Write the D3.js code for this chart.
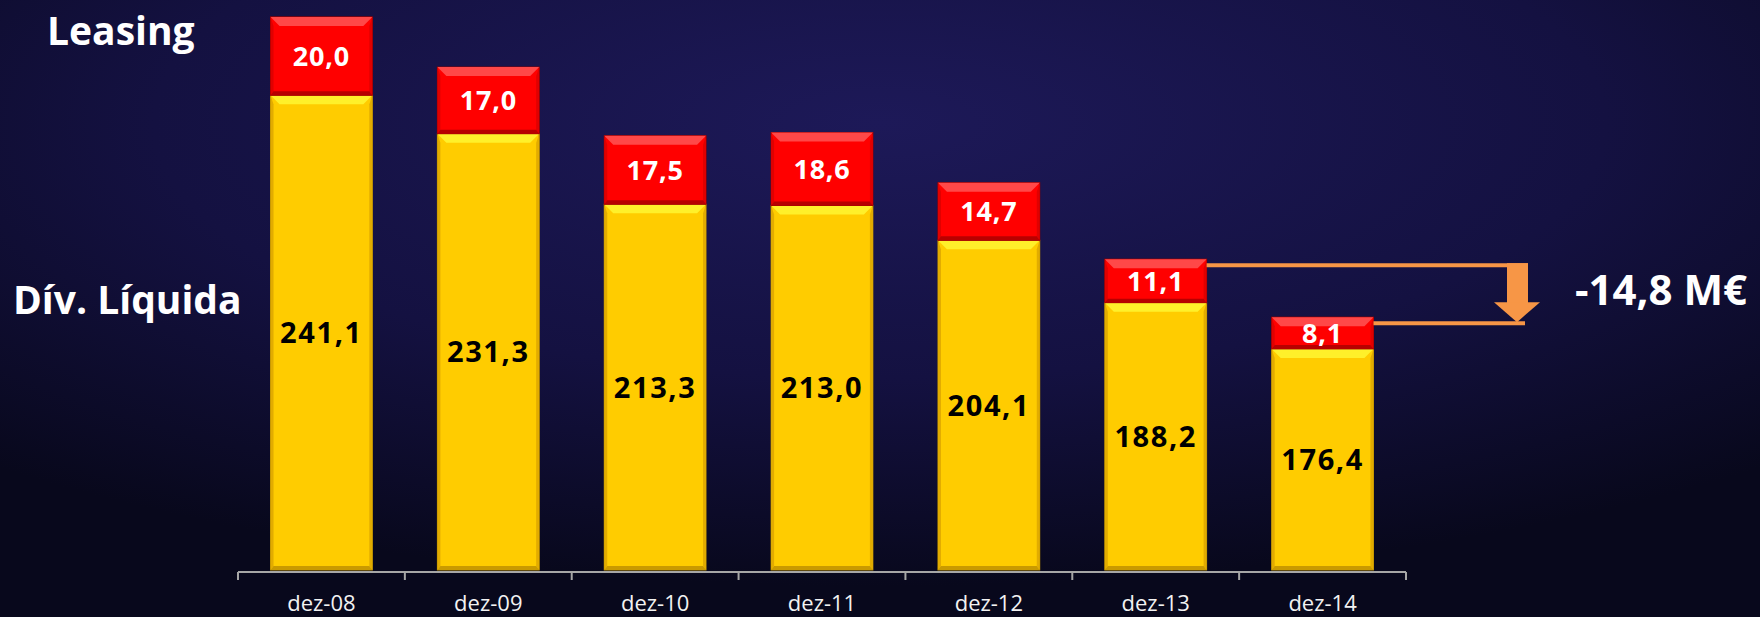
<!DOCTYPE html>
<html>
<head>
<meta charset="utf-8">
<script src="https://cdn.jsdelivr.net/npm/d3@7"></script>
<style>
  html, body { margin: 0; padding: 0; background: #0d0c2c; }
  svg { display: block; }
</style>
</head>
<body>
<div id="chart"></div>
<script>
var svgWidth = 1760;
var svgHeight = 617;

// chart data
var categories = ["dez-08", "dez-09", "dez-10", "dez-11", "dez-12", "dez-13", "dez-14"];
var divLiquida = [241.1, 231.3, 213.3, 213.0, 204.1, 188.2, 176.4];
var leasing = [20.0, 17.0, 17.5, 18.6, 14.7, 11.1, 8.1];
var seriesNames = ["Dív. Líquida", "Leasing"];
var variationLabel = "-14,8 M€";

var yMin = 120; // axis does not start at zero in the original

var ptFormat = d3.formatLocale({ decimal: ",", thousands: ".", grouping: [3], currency: ["", " €"] }).format(".1f");

var dataset = [];
for (var i = 0; i < categories.length; i++) {
  dataset.push({ cat: categories[i], div: divLiquida[i], leasing: leasing[i] });
}

var svg = d3.select("#chart")
  .append("svg")
  .attr("width", svgWidth)
  .attr("height", svgHeight);

// background
var defs = svg.append("defs");
var bg = defs.append("radialGradient")
  .attr("id", "bg")
  .attr("cx", "50%").attr("cy", "20%").attr("r", "75%")
  .attr("gradientUnits", "objectBoundingBox");
bg.append("stop").attr("offset", "0%").attr("stop-color", "#1d1958");
bg.append("stop").attr("offset", "55%").attr("stop-color", "#141141");
bg.append("stop").attr("offset", "100%").attr("stop-color", "#08081c");

svg.append("rect")
  .attr("width", svgWidth)
  .attr("height", svgHeight)
  .attr("fill", "url(#bg)");

var x = d3.scaleBand()
  .domain(categories)
  .range([238, 1406])
  .paddingInner(0.39)
  .paddingOuter(0.195);

var y = d3.scaleLinear()
  .domain([yMin, 260])
  .range([570, 21.2]);

var stack = d3.stack().keys(["div", "leasing"]);
var layers = stack(dataset);

var styles = [
  { main: "#ffcc00", top: "#fff02a", side: "#e2ac00", bottom: "#c99a00", line: "#b58a00", text: "#000000" },
  { main: "#ff0000", top: "#ff4848", side: "#e00000", bottom: "#b80000", line: "#9a0000", text: "#ffffff" }
];

// beveled bar segments
function segmentPolys(x0, x1, y0, y1) {
  var t = 9, s = 3, b = 4;
  return [
    { k: "top", p: [[x0, y0], [x1, y0], [x1 - t, y0 + t], [x0 + t, y0 + t]] },
    { k: "side", p: [[x0, y0], [x0 + s, y0 + t], [x0 + s, y1 - b], [x0, y1]] },
    { k: "side", p: [[x1, y0], [x1 - s, y0 + t], [x1 - s, y1 - b], [x1, y1]] },
    { k: "bottom", p: [[x0, y1], [x0 + s, y1 - b], [x1 - s, y1 - b], [x1, y1]] }
  ];
}

layers.forEach(function(layer, li) {
  var st = styles[li];
  var g = svg.append("g").attr("class", "layer-" + li);

  var seg = g.selectAll("g")
    .data(layer)
    .enter()
    .append("g");

  seg.append("rect")
    .attr("x", function(d) { return x(d.data.cat); })
    .attr("y", function(d) { return y(d[1]); })
    .attr("width", x.bandwidth())
    .attr("height", function(d) { return y(li === 0 ? yMin : d[0]) - y(d[1]); })
    .attr("fill", st.main)
    .attr("stroke", st.line)
    .attr("stroke-width", 1);

  seg.each(function(d) {
    var x0 = x(d.data.cat), x1 = x0 + x.bandwidth();
    var y0 = y(d[1]), y1 = y(li === 0 ? yMin : d[0]);
    d3.select(this).selectAll("polygon")
      .data(segmentPolys(x0, x1, y0, y1))
      .enter()
      .append("polygon")
      .attr("points", function(p) { return p.p.join(" "); })
      .attr("fill", function(p) { return st[p.k]; });
  });

  seg.append("text")
    .text(function(d) { return ptFormat(d[1] - (li === 0 ? 0 : d[0])); })
    .attr("x", function(d) { return x(d.data.cat) + x.bandwidth() / 2; })
    .attr("y", function(d) { return (y(d[1]) + y(li === 0 ? yMin : d[0])) / 2; })
    .attr("dy", "0.36em")
    .attr("text-anchor", "middle")
    .attr("font-family", "'Open Sans', sans-serif")
    .attr("font-weight", "bold")
    .attr("font-size", li === 0 ? "29px" : "27px")
    .attr("letter-spacing", li === 0 ? "1.6px" : "0.8px")
    .attr("fill", st.text);
});

// x axis: line with ticks at band boundaries
var axisY = 572;
var step = x.step();
var bounds = categories.map(function(c) { return x(c) - x.paddingInner() * step / 2; });
bounds.push(x.range()[1]);

svg.append("line")
  .attr("x1", x.range()[0]).attr("x2", x.range()[1])
  .attr("y1", axisY).attr("y2", axisY)
  .attr("stroke", "#a6a6a6")
  .attr("stroke-width", 2);

svg.selectAll(".tick-mark")
  .data(bounds)
  .enter()
  .append("line")
  .attr("class", "tick-mark")
  .attr("x1", function(d) { return d; }).attr("x2", function(d) { return d; })
  .attr("y1", axisY).attr("y2", axisY + 8)
  .attr("stroke", "#a6a6a6")
  .attr("stroke-width", 2);

var xAxis = svg.append("g")
  .attr("transform", "translate(0," + axisY + ")")
  .call(d3.axisBottom(x).tickSize(0).tickPadding(0));
xAxis.select(".domain").remove();
xAxis.selectAll("text")
  .attr("y", 39)
  .attr("dy", 0)
  .attr("fill", "#f2f2f2")
  .attr("font-family", "'Open Sans', sans-serif")
  .attr("font-size", "22px");

// series labels on the left
svg.append("text")
  .text(seriesNames[1])
  .attr("x", 47).attr("y", 45)
  .attr("font-family", "'Open Sans', sans-serif")
  .attr("font-weight", "bold")
  .attr("font-size", "39px")
  .attr("fill", "#ffffff");

svg.append("text")
  .text(seriesNames[0])
  .attr("x", 13).attr("y", 314)
  .attr("font-family", "'Open Sans', sans-serif")
  .attr("font-weight", "bold")
  .attr("font-size", "39px")
  .attr("fill", "#ffffff");

// variation annotation between the last two bars
var orange = "#f79646";
var last = dataset.length - 1;
var yTop = y(dataset[last - 1].div + dataset[last - 1].leasing) + 6;
var yBot = y(dataset[last].div + dataset[last].leasing) + 6;
var xStart = x(categories[last - 1]) + x.bandwidth();
var xStart2 = x(categories[last]) + x.bandwidth();
var arrowX = 1517;

svg.append("line")
  .attr("x1", xStart).attr("x2", arrowX + 11)
  .attr("y1", yTop).attr("y2", yTop)
  .attr("stroke", orange).attr("stroke-width", 4);

svg.append("line")
  .attr("x1", xStart2).attr("x2", arrowX + 8)
  .attr("y1", yBot).attr("y2", yBot)
  .attr("stroke", orange).attr("stroke-width", 4);

svg.append("rect")
  .attr("x", arrowX - 10).attr("y", yTop - 2)
  .attr("width", 21).attr("height", (yBot - 20) - (yTop - 2))
  .attr("fill", orange);

svg.append("polygon")
  .attr("points", [[arrowX - 23, yBot - 21], [arrowX + 23, yBot - 21], [arrowX, yBot - 1]].join(" "))
  .attr("fill", orange);

svg.append("text")
  .text(variationLabel)
  .attr("x", 1575).attr("y", 305)
  .attr("font-family", "'Open Sans', sans-serif")
  .attr("font-weight", "bold")
  .attr("font-size", "42px")
  .attr("fill", "#ffffff");
</script>
</body>
</html>
